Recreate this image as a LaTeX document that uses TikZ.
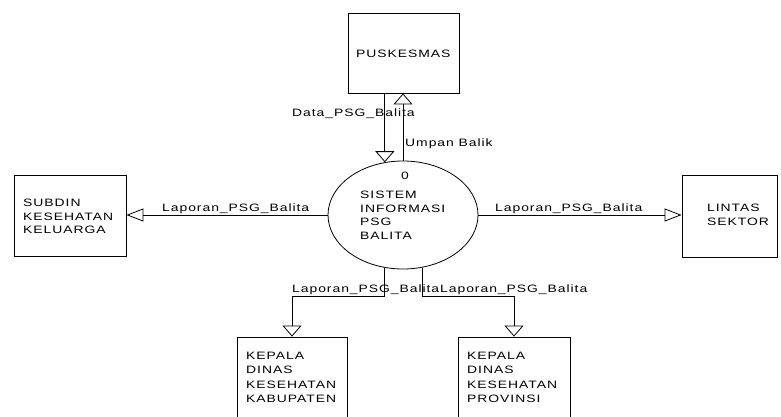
\documentclass[tikz,border=0pt]{standalone}
\usepackage{fontspec}
\setmainfont{Liberation Sans}[FakeStretch=1.3,LetterSpace=9]
\usetikzlibrary{arrows.meta,shapes.geometric}
\tikzset{
  ent/.style={draw,line width=0.8pt,inner sep=0pt},
  proc/.style={ellipse,draw,line width=0.8pt,inner sep=0pt},
  blk/.style={inner sep=0pt,anchor=north west,align=left},
  lbl/.style={inner sep=0pt,anchor=base west},
  flow/.style={line width=0.8pt},
  varr/.style={flow,-{Triangle[open,length=11pt,width=19pt]}},
  harr/.style={flow,-{Triangle[open,length=17pt,width=13pt]}}
}
\newcommand{\fs}[1]{\fontsize{10.7}{#1}\selectfont}
\begin{document}
\begin{tikzpicture}[x=1pt,y=-1pt,font=\fs{13.7}]
\useasboundingbox (0,0) rectangle (781,417);
\clip (0,0) rectangle (781,417);
% entities
\node[ent,minimum width=111pt,minimum height=80pt] (pusk) at (403.5,53) {};
\node[ent,minimum width=112pt,minimum height=81pt] (subdin) at (70,215.5) {};
\node[ent,minimum width=95pt,minimum height=82pt] (lintas) at (729.5,216) {};
\node[ent,minimum width=110pt,minimum height=83pt] (kab) at (292,378.5) {};
\node[ent,minimum width=112pt,minimum height=83pt] (prov) at (514,378.5) {};
\node[proc,minimum width=150pt,minimum height=108pt] (proc) at (403,215) {};
% texts
\node[lbl] (tpusk) at (356,57.3) {PUSKESMAS};
\node[blk,font=\fs{13.2}] (tsub) at (23,199.3) {SUBDIN\\KESEHATAN\\KELUARGA};
\node[blk,font=\fs{13.7}] (tlin) at (707,204.3) {LINTAS\\SEKTOR};
\node[blk,font=\fs{14.3}] (tkab) at (246,352) {KEPALA\\DINAS\\KESEHATAN\\KABUPATEN};
\node[blk,font=\fs{14.3}] (tprov) at (467,352) {KEPALA\\DINAS\\KESEHATAN\\PROVINSI};
\node[inner sep=0pt] (tnum) at (405,175.5) {0};
\node[blk,font=\fs{13.7}] (tproc) at (360,190.7) {SISTEM\\INFORMASI\\PSG\\BALITA};
% flows
\draw[varr] (proc.109 |- pusk.south) -- (proc.109);
\draw[varr] (proc.north) -- (proc.north |- pusk.south);
\draw[harr] (proc.west) -- (proc.west -| subdin.east);
\draw[harr] (proc.east) -- (proc.east -| lintas.west);
\coordinate (bend) at (0,296);
\draw[varr] (proc.251) -- (proc.251 |- bend) -| (kab.north);
\draw[varr] (proc.290) -- (proc.290 |- bend) -| (prov.north);
% flow labels
\node[lbl] (ldat) at (292,117) {Data\_PSG\_Balita};
\node[lbl] (lump) at (405,146.5) {Umpan Balik};
\node[lbl] (lsub) at (162,211) {Laporan\_PSG\_Balita};
\node[lbl] (llin) at (495,211.5) {Laporan\_PSG\_Balita};
\node[lbl] (lkab) at (292,292) {Laporan\_PSG\_Balita};
\node[lbl] (lprov) at (440,292) {Laporan\_PSG\_Balita};
\end{tikzpicture}
\end{document}
